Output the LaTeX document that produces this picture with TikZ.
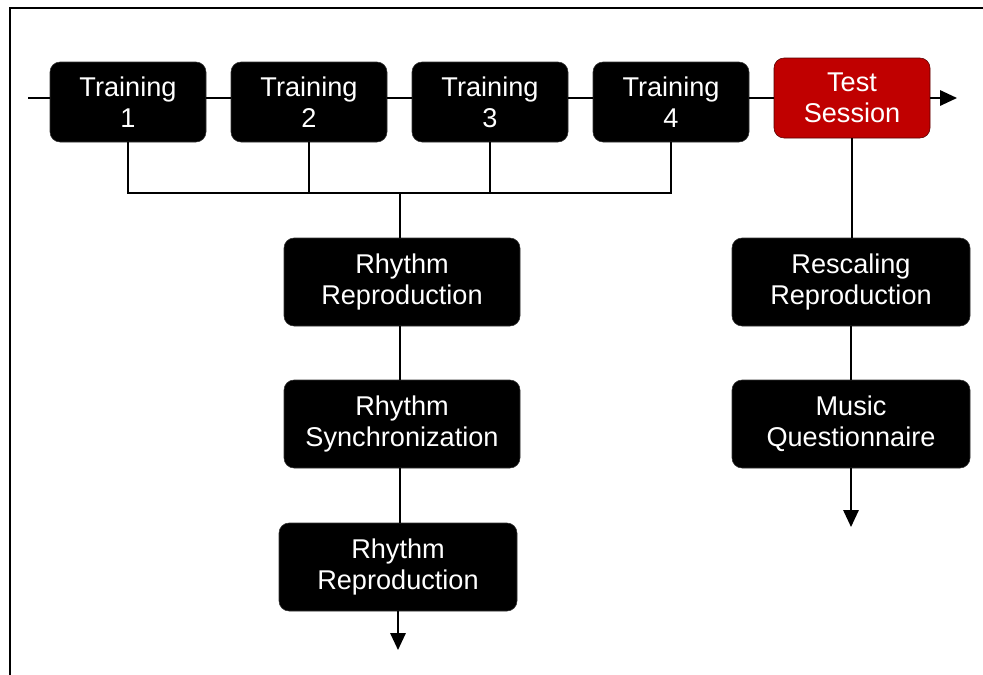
\documentclass[tikz,border=0pt]{standalone}
\usepackage{fontspec}
\setmainfont{Liberation Sans}
\usetikzlibrary{arrows.meta, positioning}
\definecolor{sessred}{HTML}{C00000}

\begin{document}
\begin{tikzpicture}[
	stage/.style={rectangle, rounded corners=0.25cm, draw=black!80, fill=black, text=white, minimum width=3.9cm, minimum height=2cm, align=center, inner sep=0pt, font=\fontsize{19.3}{22}\selectfont},
	task/.style={stage, minimum width=5.9cm, minimum height=2.2cm},
	link/.style={line width=1.4pt},
	flow/.style={line width=1.4pt, -{Triangle[length=0.42cm, width=0.38cm]}},
]
	% canvas and frame
	\useasboundingbox (0,0) rectangle (24.575,-16.85);
	\draw[line width=1.6pt] (0.25,-16.9) -- (0.25,-0.2) -- (24.6,-0.2);

	% Training sessions (top row)
	\node[stage] (t1) at (3.2,-2.55) {Training\\1};
	\node[stage] (t2) at (7.725,-2.55) {Training\\2};
	\node[stage] (t3) at (12.25,-2.55) {Training\\3};
	\node[stage] (t4) at (16.775,-2.55) {Training\\4};

	% Test session
	\node[stage, fill=sessred, draw=sessred!45!black] (test) at (21.3,-2.45) {Test\\Session};

	% timeline
	\coordinate (start) at (0.7,-2.45);
	\coordinate (end) at (23.925,-2.45);
	\draw[link] (start) -- (start -| t1.west);
	\draw[link] (t1.east |- start) -- (t2.west |- start);
	\draw[link] (t2.east |- start) -- (t3.west |- start);
	\draw[link] (t3.east |- start) -- (t4.west |- start);
	\draw[link] (t4.east |- start) -- (test.west);
	\draw[flow] (test.east) -- (end);

	% Training tasks
	\node[task] (rr1) at (10.05,-7.05) {Rhythm\\Reproduction};
	\node[task] (rs) at (10.05,-10.6) {Rhythm\\Synchronization};
	\node[task, minimum width=5.95cm] (rr2) at (9.95,-14.175) {Rhythm\\Reproduction};

	% Test tasks
	\node[task, minimum width=5.95cm] (resc) at (21.275,-7.05) {Rescaling\\Reproduction};
	\node[task, minimum width=5.95cm] (music) at (21.275,-10.6) {Music\\Questionnaire};

	% bus from training sessions
	\coordinate (bus) at (10,-4.825);
	\draw[link] (t1.south) |- (bus) -| (t4.south);
	\draw[link] (t2.south) -- (t2.south |- bus);
	\draw[link] (t3.south) -- (t3.south |- bus);
	\draw[link] (bus) -- (bus |- rr1.north);

	% training chain
	\draw[link] (rr1.south -| bus) -- (rs.north -| bus);
	\draw[link] (rs.south -| bus) -- (rr2.north -| bus);
	\coordinate (trainend) at (9.95,-16.25);
	\draw[flow] (rr2.south) -- (trainend);

	% test chain
	\draw[link] (test.south) -- (test.south |- resc.north);
	\draw[link] (resc.south) -- (music.north);
	\coordinate (testend) at (21.275,-13.175);
	\draw[flow] (music.south) -- (testend);

\end{tikzpicture}
\end{document}
